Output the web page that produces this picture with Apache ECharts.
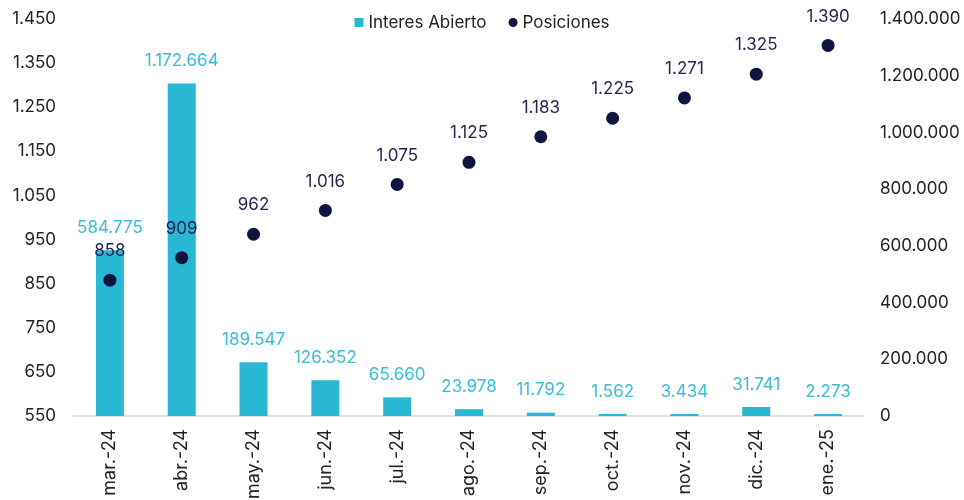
<!DOCTYPE html>
<html>
<head>
<meta charset="utf-8">
<script src="https://cdn.jsdelivr.net/npm/echarts@6/dist/echarts.min.js"></script>
<style>
  html, body { margin: 0; padding: 0; background: #fff; }
  #chart { width: 964px; height: 500px; }
</style>
</head>
<body>
<div id="chart"></div>
<script>
var months = ['mar.-24', 'abr.-24', 'may.-24', 'jun.-24', 'jul.-24', 'ago.-24',
              'sep.-24', 'oct.-24', 'nov.-24', 'dic.-24', 'ene.-25'];
var interesAbierto = [584775, 1172664, 189547, 126352, 65660, 23978, 11792, 1562, 3434, 31741, 2273];
var posiciones = [858, 909, 962, 1016, 1075, 1125, 1183, 1225, 1271, 1325, 1390];

var cyan = '#29b8d3';
var navy = '#10153f';
var fontName = 'Inter';

// thousands with dots
var fmt = function (v) {
    return String(v).replace(/\B(?=(\d{3})+(?!\d))/g, '.');
};

var chart = echarts.init(document.getElementById('chart'));
chart.setOption({
    animation: false,
    textStyle: { fontFamily: fontName },
    legend: {
        top: 9,
        left: 'center',
        itemGap: 22,
        itemWidth: 9,
        itemHeight: 9,
        itemStyle: { opacity: 1 },
        textStyle: { fontSize: 17, color: '#222', fontFamily: fontName },
        data: [
            { name: 'Interes Abierto', icon: 'rect' },
            { name: 'Posiciones', icon: 'circle' }
        ]
    },
    grid: { left: 74, right: 100, top: 19, bottom: 84, outerBoundsMode: 'none', containLabel: false },
    xAxis: {
        type: 'category',
        data: months,
        axisLine: { lineStyle: { color: '#d9d9d9', width: 1.5 } },
        axisTick: { show: false },
        axisLabel: { rotate: 90, margin: 13, fontSize: 18, color: '#222' }
    },
    yAxis: [{
        type: 'value',
        min: 550,
        max: 1450,
        interval: 100,
        position: 'left',
        splitLine: { show: false },
        axisLine: { show: false },
        axisTick: { show: false },
        axisLabel: { fontSize: 17, color: '#222', margin: 18, formatter: fmt }
    }, {
        type: 'value',
        min: 0,
        max: 1400000,
        interval: 200000,
        position: 'right',
        splitLine: { show: false },
        axisLine: { show: false },
        axisTick: { show: false },
        axisLabel: { fontSize: 17, color: '#222', margin: 16, formatter: fmt }
    }],
    series: [{
        name: 'Interes Abierto',
        type: 'bar',
        yAxisIndex: 1,
        data: interesAbierto,
        barWidth: 28,
        barMinHeight: 2,
        itemStyle: { color: cyan },
        label: {
            show: true,
            position: 'top',
            distance: 14,
            fontSize: 17,
            color: '#3bbcd8',
            formatter: function (p) { return fmt(p.value); }
        },
        z: 2
    }, {
        name: 'Posiciones',
        type: 'scatter',
        yAxisIndex: 0,
        data: posiciones,
        symbolSize: 13,
        itemStyle: { color: navy, opacity: 1 },
        label: {
            show: true,
            position: 'top',
            distance: 14,
            fontSize: 17,
            color: '#1f2452',
            formatter: function (p) { return fmt(p.value); }
        },
        z: 3
    }]
});
</script>
</body>
</html>
